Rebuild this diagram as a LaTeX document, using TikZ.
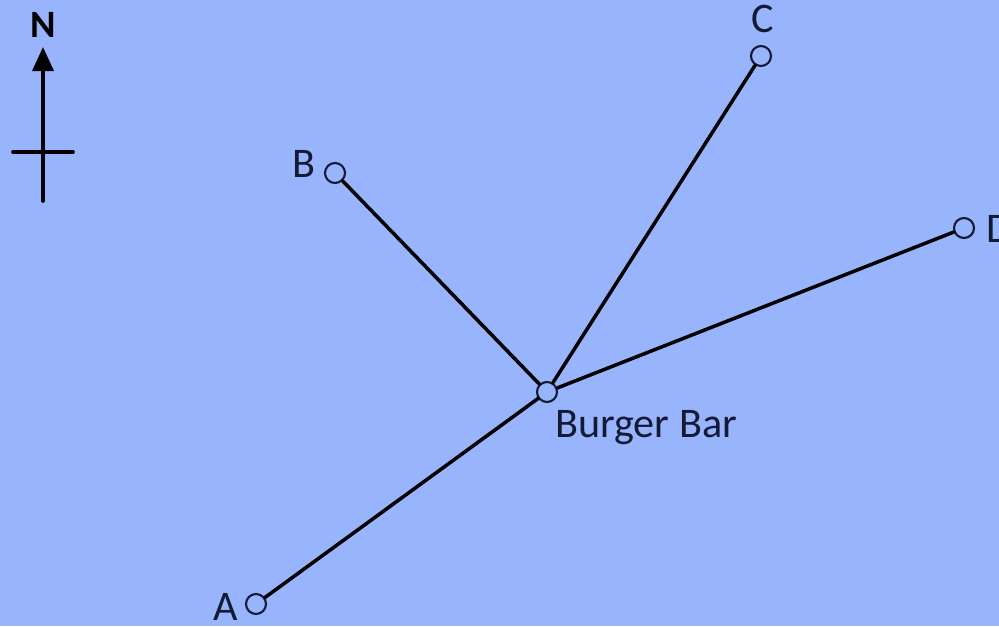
\documentclass[tikz,border=0pt]{standalone}
\usepackage{fontspec}
\setmainfont{Carlito}
\usetikzlibrary{arrows.meta,positioning}
\definecolor{mapblue}{RGB}{152,180,252}
\definecolor{mapink}{RGB}{18,26,52}

\begin{document}
\begin{tikzpicture}[x=0.02cm,y=-0.02cm,line cap=round,line join=round,
  site/.style={circle,draw=mapink,fill=mapblue,line width=1.2pt,
   minimum size=0.4cm,inner sep=0pt},
  road/.style={line width=2pt,black},
  lbl/.style={font=\fontsize{24}{28}\selectfont,text=mapink,inner sep=0pt}]
 \fill[mapblue] (0,0) rectangle (999,626);
 \useasboundingbox (0,0) rectangle (999,626);
 % compass
 \coordinate (s) at (43,201);
 \coordinate (n) at (43,47);
 \coordinate (w) at (13,152);
 \coordinate (e) at (73,152);
 \draw[line width=2.1pt,-{Triangle[length=0.48cm,width=0.42cm]}] (s)--(n);
 \draw[line width=2.1pt] (w)--(e);
 \node[font=\bfseries\fontsize{22}{26}\selectfont,inner sep=0pt] (north) at (43,25) {N};
 % sites
 \node[site] (bar) at (547,392) {};
 \node[site] (a) at (256,604) {};
 \node[site] (b) at (335,173) {};
 \node[site] (c) at (761,56) {};
 \node[site] (d) at (964,228) {};
 \draw[road] (bar)--(a);
 \draw[road] (bar)--(b);
 \draw[road] (bar)--(c);
 \draw[road] (bar)--(d);
 \node[lbl] (bartext) at (646,428) {Burger Bar};
 \node[lbl] (atext) at (226,607) {A};
 \node[lbl] (btext) at (304,164) {B};
 \node[lbl] (ctext) at (763,19) {C};
 \node[lbl,anchor=west] (dtext) at (986,229) {D};
\end{tikzpicture}
\end{document}
